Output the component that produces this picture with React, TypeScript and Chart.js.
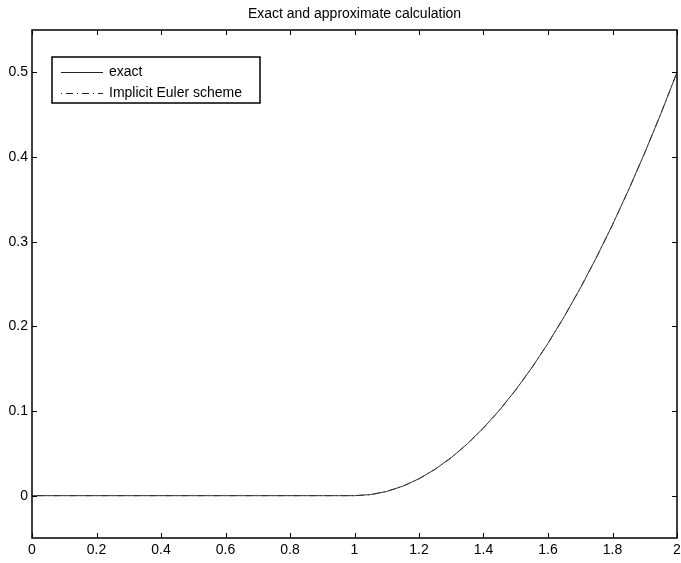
import React, { useEffect, useRef } from "react";
import { Chart, registerables } from "chart.js";

Chart.register(...registerables);

const TITLE = "Exact and approximate calculation";
const LABEL_EXACT = "exact";
const LABEL_EULER = "Implicit Euler scheme";

const xValues = [
  0, 0.05, 0.1, 0.15, 0.2, 0.25, 0.3, 0.35, 0.4, 0.45, 0.5, 0.55, 0.6, 0.65, 0.7, 0.75, 0.8, 0.85, 0.9, 0.95,
  1, 1.05, 1.1, 1.15, 1.2, 1.25, 1.3, 1.35, 1.4, 1.45, 1.5, 1.55, 1.6, 1.65, 1.7, 1.75, 1.8, 1.85, 1.9, 1.95, 2,
];
const exactValues = [
  0, 0, 0, 0, 0, 0, 0, 0, 0, 0, 0, 0, 0, 0, 0, 0, 0, 0, 0, 0,
  0, 0.00125, 0.005, 0.01125, 0.02, 0.03125, 0.045, 0.06125, 0.08, 0.10125, 0.125, 0.15125, 0.18, 0.21125,
  0.245, 0.28125, 0.32, 0.36125, 0.405, 0.45125, 0.5,
];
const eulerValues = [
  0, 0, 0, 0, 0, 0, 0, 0, 0, 0, 0, 0, 0, 0, 0, 0, 0, 0, 0, 0,
  0, 0.0012, 0.005, 0.0112, 0.0199, 0.0312, 0.0449, 0.0612, 0.0799, 0.1012, 0.1249, 0.1512, 0.1799, 0.2112,
  0.2449, 0.2812, 0.3199, 0.3612, 0.4049, 0.4512, 0.4999,
];

const FONT = "'Liberation Sans', Arial, Helvetica, sans-serif";

const matlabFrame = {
  id: "matlabFrame",
  afterDraw(chart: any) {
    const { ctx, chartArea } = chart;
    const { left, right, top, bottom } = chartArea;
    const xs = chart.scales.x;
    const ys = chart.scales.y;
    ctx.save();
    ctx.strokeStyle = "#000";
    ctx.lineWidth = 1.5;
    ctx.strokeRect(left, top, right - left, bottom - top);
    const tl = 5;
    ctx.lineWidth = 1;
    ctx.beginPath();
    xs.ticks.forEach((t: any) => {
      const px = Math.round(xs.getPixelForValue(t.value)) + 0.5;
      ctx.moveTo(px, bottom);
      ctx.lineTo(px, bottom - tl);
      ctx.moveTo(px, top);
      ctx.lineTo(px, top + tl);
    });
    ys.ticks.forEach((t: any) => {
      const py = Math.round(ys.getPixelForValue(t.value)) + 0.5;
      ctx.moveTo(left, py);
      ctx.lineTo(left + tl, py);
      ctx.moveTo(right, py);
      ctx.lineTo(right - tl, py);
    });
    ctx.stroke();

    // title
    ctx.fillStyle = "#000";
    ctx.font = `14px ${FONT}`;
    ctx.textAlign = "center";
    ctx.textBaseline = "alphabetic";
    ctx.fillText(TITLE, (left + right) / 2, 18);

    // legend
    const lx = 52, ly = 57, lw = 208, lh = 46;
    ctx.fillStyle = "#fff";
    ctx.fillRect(lx, ly, lw, lh);
    ctx.lineWidth = 1.5;
    ctx.strokeStyle = "#000";
    ctx.strokeRect(lx, ly, lw, lh);
    const items = [
      { label: LABEL_EXACT, y: 72, dash: [] as number[] },
      { label: LABEL_EULER, y: 93, dash: [1, 4, 7, 4] },
    ];
    items.forEach((it) => {
      ctx.beginPath();
      ctx.lineWidth = 1;
      ctx.strokeStyle = "#222";
      ctx.setLineDash(it.dash);
      ctx.moveTo(61, it.y + 0.5);
      ctx.lineTo(103, it.y + 0.5);
      ctx.stroke();
      ctx.setLineDash([]);
      ctx.fillStyle = "#000";
      ctx.textAlign = "left";
      ctx.textBaseline = "middle";
      ctx.font = `14px ${FONT}`;
      ctx.fillText(it.label, 109, it.y);
    });
    ctx.restore();
  },
};

export default function App() {
  const ref = useRef<HTMLCanvasElement | null>(null);
  useEffect(() => {
    document.body.style.margin = "0";
    const canvas = ref.current;
    if (!canvas) return;
    const chart = new Chart(canvas, {
      type: "line",
      data: {
        datasets: [
          {
            label: LABEL_EXACT,
            data: xValues.map((x, i) => ({ x, y: exactValues[i] })),
            borderColor: "#333",
            borderWidth: 1,
            pointRadius: 0,
            tension: 0,
          },
          {
            label: LABEL_EULER,
            data: xValues.map((x, i) => ({ x, y: eulerValues[i] })),
            borderColor: "#333",
            borderWidth: 1,
            borderDash: [1, 4, 7, 4],
            pointRadius: 0,
            tension: 0,
          },
        ],
      },
      options: {
        animation: false,
        responsive: false,
        maintainAspectRatio: false,
        layout: { padding: { top: 30, right: 4, left: 0, bottom: 0 } },
        plugins: {
          legend: { display: false },
          title: { display: false },
          tooltip: { enabled: false },
        },
        scales: {
          x: {
            type: "linear",
            min: 0,
            max: 2,
            grid: { display: false, drawTicks: false },
            border: { display: false },
            ticks: {
              stepSize: 0.2,
              padding: 4,
              color: "#000",
              font: { family: FONT, size: 14 },
              maxRotation: 0,
              autoSkip: false,
              callback: (v: any) => String(Math.round(Number(v) * 10) / 10),
            },
            afterFit: (s: any) => {
              s.height = 25;
              s.paddingLeft = 0;
              s.paddingRight = 0;
            },
          },
          y: {
            type: "linear",
            min: -0.05,
            max: 0.55,
            grid: { display: false, drawTicks: false },
            border: { display: false },
            afterBuildTicks: (s: any) => {
              s.ticks = [0, 0.1, 0.2, 0.3, 0.4, 0.5].map((v) => ({ value: v }));
            },
            ticks: {
              padding: 4,
              color: "#000",
              font: { family: FONT, size: 14 },
              autoSkip: false,
              callback: (v: any) => String(Math.round(Number(v) * 10) / 10),
            },
            afterFit: (s: any) => {
              s.width = 32;
              s.paddingTop = 0;
              s.paddingBottom = 0;
            },
          },
        },
      },
      plugins: [matlabFrame],
    });
    return () => chart.destroy();
  }, []);
  return (
    <div style={{ width: 681, height: 563, background: "#fff" }}>
      <canvas ref={ref} width={681} height={563} style={{ display: "block" }} />
    </div>
  );
}
